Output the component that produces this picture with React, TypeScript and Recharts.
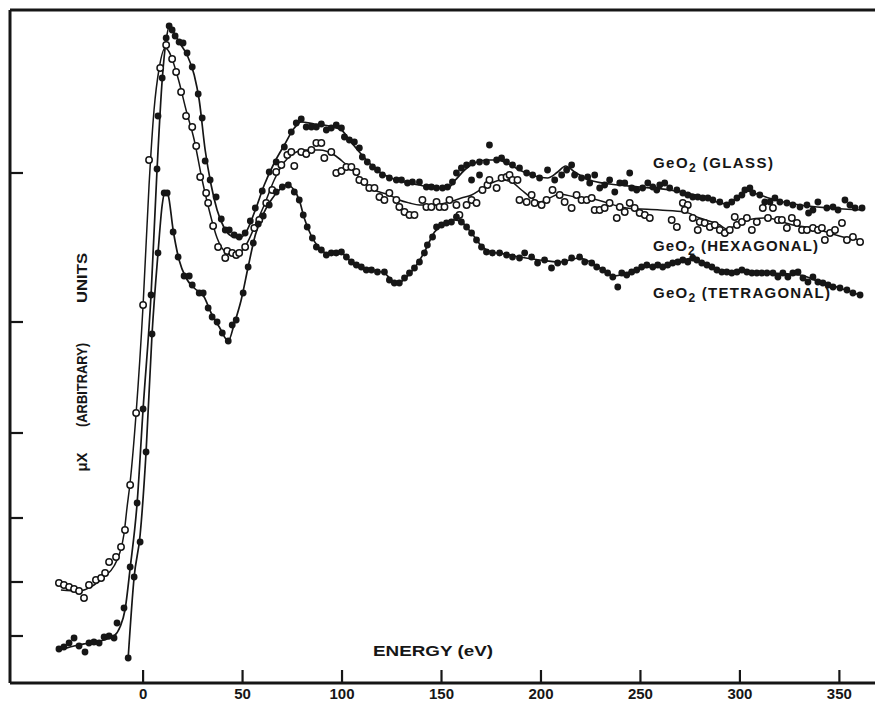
import React from 'react';
import { ComposedChart, Line, Scatter, XAxis, YAxis, ReferenceLine } from 'recharts';

// Energy axis (eV) and arbitrary-unit μx axis
const X_DOMAIN: [number, number] = [-66.9, 367.9];
const Y_DOMAIN: [number, number] = [0, 673];
const X_TICKS = [0, 50, 100, 150, 200, 250, 300, 350];
const Y_TICKS = [47, 101, 165, 250, 361, 510];

// GeO2 (GLASS) — filled points
const glassDots: [number, number][] = [
  [-42.3, 34], [-39.8, 36], [-37.2, 40], [-34.7, 45], [-32.2, 37], [-29.2, 31], [-27.2, 40], [-24.7, 41],
  [-22.1, 40], [-19.6, 46], [-17.1, 47], [-14.6, 45], [-13.1, 60], [-9.6, 75], [-6.5, 116], [-3.0, 180],
  [0, 274], [4.0, 388], [7.0, 514], [7.5, 567], [9.6, 605], [11.6, 645], [13.1, 657], [14.6, 653],
  [16.1, 647], [18.1, 641], [20.1, 640], [22.1, 630], [24.7, 616], [27.7, 589], [29.7, 565], [31.2, 522],
  [33.7, 503], [36.7, 486], [39.3, 464], [41.3, 453], [43.3, 453], [45.8, 448], [48.3, 446], [51.3, 450],
  [53.9, 462], [56.4, 475], [59.9, 492], [63.4, 511], [66.9, 521], [71.0, 536], [74.5, 551], [77.0, 560],
  [79.5, 564], [82.0, 556], [84.6, 556], [87.1, 556], [89.6, 559], [92.1, 553], [94.6, 555], [97.1, 558],
  [99.7, 555], [101.2, 546], [103.7, 543], [106.2, 541], [108.7, 535], [110.2, 526], [112.7, 521], [115.3, 516],
  [117.8, 513], [120.3, 508], [123.8, 505], [127.3, 503], [129.9, 503], [132.9, 500], [135.4, 501], [138.9, 501],
  [142.4, 496], [144.9, 496], [147.5, 495], [150.5, 495], [153.0, 496], [155.5, 501], [157.5, 510], [160.0, 515],
  [162.6, 518], [165.1, 503], [169.1, 508], [165.6, 520], [169.1, 521], [172.6, 521], [174.1, 538], [177.7, 523],
  [180.2, 525], [182.7, 521], [185.7, 518], [189.2, 515], [192.8, 510], [195.8, 508], [199.3, 505], [203.3, 513],
  [206.9, 503], [210.4, 508], [212.9, 513], [215.4, 518], [216.9, 508], [220.4, 505], [223.5, 506], [224.5, 500],
  [227.0, 508], [229.5, 495], [232.0, 498], [234.5, 503], [237.1, 491], [239.6, 500], [242.1, 500], [244.6, 510],
  [245.6, 495], [248.1, 493], [251.1, 495], [253.7, 500], [256.2, 496], [258.2, 493], [259.7, 498], [262.2, 500],
  [264.7, 495], [268.3, 493], [271.3, 490], [273.8, 488], [276.3, 486], [278.8, 486], [281.3, 485], [283.9, 485],
  [286.4, 483], [289.9, 481], [293.4, 478], [295.9, 481], [298.5, 485], [301.0, 488], [302.5, 493], [305.0, 495],
  [306.5, 490], [310.0, 488], [312.5, 481], [315.1, 481], [317.6, 485], [320.1, 481], [323.6, 480], [326.6, 478],
  [330.2, 476], [333.7, 478], [334.5, 470], [336.7, 473], [339.2, 481], [343.7, 475], [346.8, 476], [349.3, 473],
  [352.8, 483], [355.3, 478], [357.9, 475], [361.4, 475],
];

// GeO2 (GLASS) — smooth curve
const glassCurve: [number, number][] = [
  [-43.3, 32], [-34.7, 37], [-27.2, 40], [-19.6, 43], [-14.6, 47], [-11.6, 56], [-9.1, 73], [-6.5, 115],
  [-3.0, 180], [0, 274], [4.0, 388], [7.0, 513], [9.6, 603], [11.6, 643], [13.1, 656], [15.6, 650],
  [18.1, 641], [22.1, 628], [25.7, 608], [28.2, 583], [31.2, 533], [34.2, 498], [37.2, 473], [40.8, 455],
  [44.3, 447], [48.3, 445], [51.8, 451], [56.4, 473], [60.9, 498], [65.9, 520], [71.0, 538], [76.0, 555],
  [79.5, 561], [86.1, 559], [93.6, 557], [99.7, 553], [103.7, 543], [108.7, 531], [113.7, 520], [118.8, 511],
  [124.8, 505], [131.4, 501], [138.9, 498], [146.5, 495], [153.0, 495], [157.0, 503], [161.6, 513], [166.6, 520],
  [172.6, 523], [177.7, 523], [182.7, 520], [189.2, 513], [196.8, 507], [203.3, 505], [208.4, 511], [212.4, 517],
  [216.9, 511], [224.5, 503], [234.5, 499], [249.6, 496], [264.7, 493], [279.8, 487], [293.4, 479], [298.5, 485],
  [303.5, 492], [308.5, 489], [317.6, 483], [330.2, 478], [345.3, 475], [361.4, 473],
];

// GeO2 (HEXAGONAL) — open points
const hexDots: [number, number][] = [
  [-42.3, 100], [-39.8, 98], [-37.2, 96], [-34.7, 94], [-32.2, 92], [-29.7, 85], [-27.2, 98], [-23.7, 103],
  [-21.1, 105], [-19.1, 110], [-17.1, 121], [-13.6, 126], [-11.1, 136], [-9.1, 153], [-6.5, 198], [-3.5, 270],
  [0, 378], [3.0, 523], [8.6, 615], [11.6, 638], [14.6, 624], [16.6, 611], [19.1, 591], [21.6, 567],
  [24.7, 556], [26.7, 537], [28.7, 506], [31.7, 490], [32.7, 480], [35.2, 457], [37.7, 436], [41.3, 425],
  [42.3, 432], [44.8, 430], [46.8, 428], [48.3, 430], [51.3, 436], [55.9, 455], [58.4, 463], [61.9, 480],
  [64.9, 493], [66.9, 511], [69.5, 518], [72.5, 528], [74.5, 531], [76.0, 517], [79.5, 531], [82.0, 529],
  [84.6, 533], [87.1, 540], [89.6, 540], [91.1, 525], [94.6, 531], [97.1, 510], [99.7, 512], [102.2, 516],
  [104.7, 516], [107.2, 511], [108.7, 503], [111.2, 501], [113.7, 495], [116.3, 495], [118.8, 486], [121.3, 483],
  [123.8, 490], [127.3, 483], [128.8, 476], [131.4, 471], [133.9, 468], [136.4, 468], [140.4, 483], [142.4, 476],
  [144.9, 476], [147.5, 481], [149.0, 476], [151.5, 476], [154.0, 483], [157.5, 478], [159.0, 468], [162.6, 478],
  [165.1, 483], [167.6, 480], [170.6, 493], [173.1, 498], [174.1, 503], [177.7, 495], [180.2, 505], [182.7, 506],
  [184.2, 508], [185.7, 503], [188.2, 503], [189.2, 483], [192.8, 481], [195.3, 488], [196.8, 480], [200.3, 478],
  [202.8, 483], [205.8, 493], [209.4, 488], [211.9, 481], [215.4, 475], [217.9, 488], [220.4, 483], [223.0, 483],
  [225.5, 485], [227.0, 473], [229.5, 473], [232.0, 475], [234.5, 480], [238.1, 465], [239.6, 476], [242.1, 471],
  [244.6, 480], [247.1, 475], [249.6, 470], [252.2, 468], [254.7, 465], [265.7, 463], [268.3, 456], [271.3, 480],
  [273.8, 478], [272.3, 473], [276.3, 465], [279.8, 461], [282.3, 460], [278.8, 453], [284.9, 456], [287.4, 458],
  [289.9, 453], [292.4, 450], [294.9, 453], [297.4, 466], [298.5, 458], [301.0, 461], [303.5, 465], [306.0, 453],
  [308.5, 461], [311.5, 475], [314.1, 465], [316.6, 475], [319.1, 463], [321.1, 463], [323.6, 455], [326.1, 465],
  [328.7, 460], [331.2, 453], [333.7, 453], [336.7, 455], [339.2, 453], [341.2, 455], [342.7, 443], [345.3, 450],
  [347.8, 453], [351.3, 460], [353.8, 443], [356.8, 446], [360.4, 441],
];

// GeO2 (HEXAGONAL) — smooth curve
const hexCurve: [number, number][] = [
  [-41.3, 93], [-32.2, 92], [-24.7, 98], [-19.6, 106], [-14.6, 117], [-11.6, 131], [-9.6, 149], [-8.1, 175],
  [-6.5, 201], [-3.5, 270], [0, 378], [3.0, 498], [5.5, 573], [8.1, 615], [11.1, 635], [13.1, 631],
  [15.6, 618], [18.1, 601], [21.6, 573], [25.7, 543], [29.7, 503], [33.2, 473], [37.2, 445], [40.8, 432],
  [44.8, 428], [48.3, 430], [52.3, 440], [56.4, 458], [60.9, 478], [65.9, 503], [71.0, 521], [76.0, 530],
  [81.0, 533], [88.6, 533], [96.1, 528], [101.2, 520], [106.2, 511], [111.2, 500], [116.3, 493], [123.8, 488],
  [128.8, 483], [133.9, 480], [138.9, 478], [146.5, 478], [154.0, 481], [160.0, 485], [165.1, 488], [170.1, 494],
  [175.1, 500], [180.2, 503], [185.2, 501], [190.2, 493], [195.3, 485], [199.3, 481], [204.3, 485], [209.4, 489],
  [216.9, 486], [226.0, 484], [243.1, 475], [259.7, 473], [272.3, 471], [279.8, 465], [289.9, 458], [293.4, 454],
  [297.4, 457], [303.5, 463], [313.6, 465], [326.6, 458], [336.7, 455], [351.8, 446], [361.4, 443],
];

// GeO2 (TETRAGONAL) — filled points
const tetraDots: [number, number][] = [
  [-7.5, 25], [-4.5, 106], [-1.5, 141], [1.5, 231], [4.5, 349], [7.5, 430], [10.6, 490], [12.1, 490],
  [15.1, 451], [17.6, 426], [20.6, 407], [23.2, 407], [24.7, 398], [28.2, 390], [30.2, 390], [32.7, 375],
  [34.7, 366], [37.2, 361], [39.8, 350], [42.8, 342], [44.8, 358], [46.8, 363], [50.3, 390], [52.8, 416],
  [55.4, 440], [57.9, 459], [60.4, 467], [63.4, 478], [66.9, 491], [70.0, 496], [73.0, 498], [76.0, 491],
  [78.5, 483], [80.5, 468], [82.5, 456], [85.1, 445], [87.1, 436], [89.6, 433], [92.1, 428], [94.6, 430],
  [97.1, 430], [99.7, 431], [102.2, 426], [104.7, 421], [107.2, 418], [109.7, 416], [112.2, 413], [114.8, 413],
  [117.8, 411], [121.3, 411], [123.8, 403], [126.3, 400], [128.8, 400], [131.4, 405], [133.9, 410], [136.4, 415],
  [138.9, 421], [141.4, 430], [142.9, 438], [145.5, 446], [147.5, 456], [150.0, 458], [152.5, 460], [155.0, 461],
  [157.5, 466], [160.0, 461], [162.6, 456], [165.1, 450], [167.6, 443], [170.1, 436], [172.6, 431], [175.6, 430],
  [179.2, 430], [182.7, 428], [185.7, 426], [189.2, 425], [191.8, 430], [195.3, 426], [198.3, 420], [201.8, 423],
  [205.3, 415], [208.4, 420], [211.9, 421], [215.4, 425], [219.4, 426], [222.0, 421], [225.5, 420], [228.0, 416],
  [231.0, 413], [233.5, 410], [236.1, 406], [238.6, 396], [240.6, 410], [243.1, 408], [245.6, 411], [248.1, 413],
  [250.6, 416], [253.2, 418], [256.2, 416], [258.7, 418], [261.2, 416], [263.7, 418], [266.2, 420], [268.8, 421],
  [271.3, 423], [273.8, 421], [276.3, 425], [278.3, 423], [280.8, 420], [283.4, 418], [285.9, 416], [288.4, 413],
  [290.9, 411], [293.4, 411], [295.9, 410], [298.5, 411], [301.0, 413], [303.5, 411], [306.0, 410], [308.5, 410],
  [311.0, 410], [313.6, 410], [316.6, 410], [319.1, 406], [321.6, 410], [324.1, 406], [326.6, 410], [329.2, 411],
  [331.7, 405], [334.2, 401], [336.7, 406], [339.2, 401], [341.7, 400], [344.3, 398], [346.8, 396], [350.3, 395],
  [353.8, 393], [356.8, 390], [360.4, 388],
];

// GeO2 (TETRAGONAL) — smooth curve
const tetraCurve: [number, number][] = [
  [-7.5, 25], [-4.5, 106], [-1.5, 148], [1.5, 231], [4.5, 349], [7.5, 430], [9.6, 478], [11.1, 492],
  [12.6, 488], [15.1, 453], [18.1, 423], [21.6, 405], [25.7, 395], [30.7, 386], [34.2, 370], [38.3, 356],
  [42.8, 342], [45.8, 359], [49.3, 383], [52.8, 416], [56.4, 448], [60.4, 469], [64.4, 483], [68.5, 493],
  [72.5, 498], [75.5, 494], [78.5, 483], [81.0, 465], [84.6, 447], [88.6, 435], [93.6, 429], [98.6, 431],
  [103.7, 423], [108.7, 417], [114.8, 413], [121.3, 410], [124.8, 403], [127.8, 399], [131.4, 404], [136.4, 415],
  [141.4, 431], [146.5, 451], [151.5, 459], [156.5, 463], [160.0, 461], [165.1, 450], [170.1, 437], [175.1, 431],
  [181.7, 429], [189.2, 426], [199.3, 423], [209.4, 421], [219.4, 425], [229.5, 415], [236.1, 407], [242.1, 409],
  [249.6, 415], [259.7, 417], [269.8, 422], [276.3, 425], [282.3, 419], [289.9, 412], [299.5, 411], [315.1, 410],
  [330.2, 408], [340.2, 401], [350.3, 395], [361.4, 387],
];

const pts = (a: [number, number][]) => a.map(([x, y]) => ({ x, y }));

const INK = '#161616';
const FONT = '"Liberation Sans", Arial, sans-serif';

const XTick = (props: any) => {
  const { x, y, payload } = props;
  return (
    <g>
      <line x1={x} x2={x} y1={y} y2={y - 13} stroke={INK} strokeWidth={2.2} />
      <text x={x} y={y + 16} textAnchor="middle" fontFamily={FONT} fontWeight={700} fontSize={15} fill={INK}>
        {payload.value}
      </text>
    </g>
  );
};

const YTick = (props: any) => {
  const { x, y } = props;
  return <line x1={x} x2={x + 13} y1={y} y2={y} stroke={INK} strokeWidth={2.2} />;
};

const FilledDot = (p: any) => <circle cx={p.cx} cy={p.cy} r={3.4} fill={INK} />;
const OpenDot = (p: any) => (
  <circle cx={p.cx} cy={p.cy} r={3.2} fill="#fff" stroke={INK} strokeWidth={1.5} />
);

const labelStyle = { fontFamily: FONT, fontWeight: 700, fontSize: 15, fill: INK } as const;

export default function App() {
  return (
    <div style={{ position: 'absolute', left: 0, top: 0, width: 875, height: 701, background: '#fff' }}>
      <ComposedChart width={875} height={701} margin={{ top: 10, right: 0, bottom: 0, left: 10 }}>
        <XAxis
          type="number"
          dataKey="x"
          domain={X_DOMAIN}
          ticks={X_TICKS}
          interval={0}
          allowDataOverflow
          height={18}
          tickSize={0}
          tickMargin={0}
          tickLine={false}
          axisLine={{ stroke: INK, strokeWidth: 3 }}
          tick={XTick}
        />
        <YAxis
          type="number"
          dataKey="y"
          domain={Y_DOMAIN}
          ticks={Y_TICKS}
          interval={0}
          allowDataOverflow
          mirror
          width={1}
          tick={YTick}
          tickSize={0}
          tickMargin={0}
          tickLine={false}
          axisLine={{ stroke: INK, strokeWidth: 3 }}
        />
        <ReferenceLine y={673} stroke={INK} strokeWidth={3} />
        <Line data={pts(glassCurve)} dataKey="y" type="monotone" dot={false} stroke={INK} strokeWidth={1.7} isAnimationActive={false} />
        <Line data={pts(hexCurve)} dataKey="y" type="monotone" dot={false} stroke={INK} strokeWidth={1.5} isAnimationActive={false} />
        <Line data={pts(tetraCurve)} dataKey="y" type="monotone" dot={false} stroke={INK} strokeWidth={1.7} isAnimationActive={false} />
        <Scatter data={pts(glassDots)} dataKey="y" shape={FilledDot} isAnimationActive={false} />
        <Scatter data={pts(hexDots)} dataKey="y" shape={OpenDot} isAnimationActive={false} />
        <Scatter data={pts(tetraDots)} dataKey="y" shape={FilledDot} isAnimationActive={false} />
      </ComposedChart>
      <svg width={875} height={701} style={{ position: 'absolute', left: 0, top: 0, pointerEvents: 'none' }}>
        <text x={653} y={168} textLength={120} lengthAdjust="spacing" {...labelStyle}>
          GeO<tspan dy={4} fontSize={12}>2</tspan><tspan dy={-4}> (GLASS)</tspan>
        </text>
        <text x={653} y={251} textLength={165} lengthAdjust="spacing" {...labelStyle}>
          GeO<tspan dy={4} fontSize={12}>2</tspan><tspan dy={-4}> (HEXAGONAL)</tspan>
        </text>
        <text x={653} y={298} textLength={177} lengthAdjust="spacing" {...labelStyle}>
          GeO<tspan dy={4} fontSize={12}>2</tspan><tspan dy={-4}> (TETRAGONAL)</tspan>
        </text>
        <text x={373} y={656} textLength={120} lengthAdjust="spacingAndGlyphs" {...labelStyle}>
          ENERGY (eV)
        </text>
        <text x={87} y={462} textAnchor="middle" transform="rotate(-90 87 462)" {...labelStyle}>
          μX
        </text>
        <text x={87} y={385} textAnchor="middle" textLength={84} lengthAdjust="spacingAndGlyphs" transform="rotate(-90 87 385)" {...labelStyle}>
          (ARBITRARY)
        </text>
        <text x={87} y={278} textAnchor="middle" textLength={50} lengthAdjust="spacingAndGlyphs" transform="rotate(-90 87 278)" {...labelStyle}>
          UNITS
        </text>
      </svg>
    </div>
  );
}
